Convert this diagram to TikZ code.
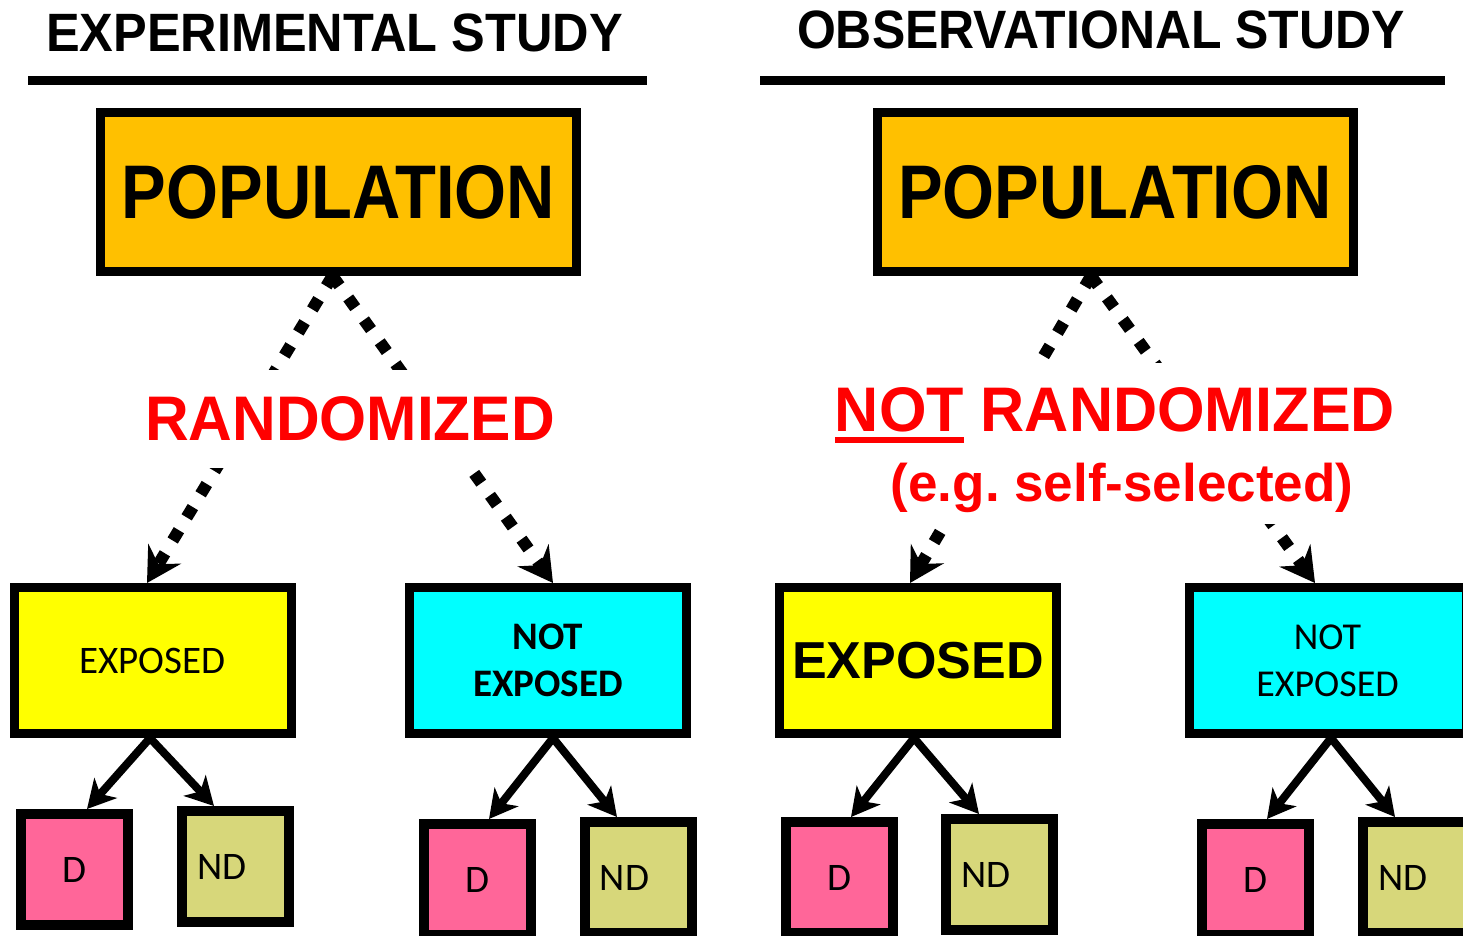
\documentclass[tikz,border=0pt]{standalone}
\usepackage{graphicx}
\usepackage{fontspec}
\setmainfont{Liberation Sans}
\newfontfamily\calib{Carlito}
\usetikzlibrary{arrows.meta}
\frenchspacing

\definecolor{popfill}{HTML}{FFC000}
\definecolor{expfill}{HTML}{FFFF00}
\definecolor{nexpfill}{HTML}{00FFFF}
\definecolor{dfill}{HTML}{FF6699}
\definecolor{ndfill}{HTML}{D7D77A}
\definecolor{labred}{HTML}{FF0000}

% thick underline for a word
\newcommand\thickul[1]{\setbox0\hbox{#1}\rlap{\rule[-11pt]{\wd0}{6pt}}\box0\relax}

\begin{document}
\begin{tikzpicture}[x=1pt, y=-1pt,
  heading/.style={anchor=base, inner sep=0, font=\bfseries\fontsize{54}{60}\selectfont},
  headrule/.style={line width=9pt},
  frame/.style={draw=black, line width=9pt, inner sep=0},
  popbox/.style={frame, fill=popfill, minimum width=476pt, minimum height=159pt,
                 font=\bfseries\fontsize{76}{80}\selectfont},
  grpbox/.style={frame, minimum width=277pt, minimum height=146pt, align=center},
  outbox/.style={draw=black, line width=10pt, inner sep=0, minimum width=107pt,
                 minimum height=111pt, font=\calib\fontsize{39}{40}\selectfont},
  randlabel/.style={fill=white, text=labred, font=\bfseries\fontsize{63}{70}\selectfont},
  assign/.style={line width=12pt, dash pattern=on 12pt off 15pt,
                 -{Stealth[length=34pt, width=38pt, inset=12pt]}},
  split/.style={line width=8pt, -{Stealth[length=28pt, width=30pt, inset=8pt]}}
]
\useasboundingbox (0,0) rectangle (1463,935);

% headings
\node[heading] (hexp) at (334.5,51) {\scalebox{0.935}[1]{EXPERIMENTAL STUDY}};
\node[heading] (hobs) at (1101,48) {\scalebox{0.925}[1]{OBSERVATIONAL STUDY}};
\coordinate (rl1) at (28,80);   \coordinate (rl2) at (647,80);
\coordinate (rr1) at (760,80);  \coordinate (rr2) at (1445,80);
\draw[headrule] (rl1) -- (rl2);
\draw[headrule] (rr1) -- (rr2);

% populations
\node[popbox] (popL) at (338.5,192) {\scalebox{0.88}[1]{POPULATION}};
\node[popbox] (popR) at (1115,192)  {\scalebox{0.88}[1]{POPULATION}};

% exposure groups
\node[grpbox, fill=expfill, font=\calib\fontsize{39}{47}\selectfont] (eL) at (152.5,660.5) {EXPOSED};
\node[grpbox, fill=nexpfill, font=\calib\bfseries\fontsize{39}{47}\selectfont] (nL) at (548,660.5) {NOT\\EXPOSED};
\node[grpbox, fill=expfill, font=\bfseries\fontsize{52}{56}\selectfont] (eR) at (918,660.5) {EXPOSED};
\node[grpbox, fill=nexpfill, font=\calib\fontsize{38}{47}\selectfont] (nR) at (1327.5,660.5) {NOT\\EXPOSED};

% outcomes
\node[outbox, fill=dfill]  (d1) at (74.5,869.5)  {D};
\node[outbox, fill=ndfill] (n1) at (235.5,866.5) {ND\kern27pt};
\node[outbox, fill=dfill]  (d2) at (477,879.5)   {D};
\node[outbox, fill=ndfill] (n2) at (638,877.5)   {ND\kern27pt};
\node[outbox, fill=dfill]  (d3) at (839,877.5)   {D};
\node[outbox, fill=ndfill] (n3) at (999.5,874.5) {ND\kern27pt};
\node[outbox, fill=dfill]  (d4) at (1255,879.5)  {D};
\node[outbox, fill=ndfill] (n4) at (1416.5,877.5){ND\kern27pt};

% allocation arrows
\draw[assign] ([xshift=-6pt]popL.south)  -- ([xshift=-5.5pt]eL.north);
\draw[assign] ([xshift=-6pt]popL.south)  -- ([xshift=5pt]nL.north);
\draw[assign] ([xshift=-24pt]popR.south) -- ([xshift=-8pt]eR.north);
\draw[assign] ([xshift=-24pt]popR.south) -- ([xshift=-12.5pt]nR.north);

% allocation labels
\node[randlabel, minimum height=98pt] (rand) at (350,419) {\scalebox{0.96}[1]{RANDOMIZED}};
\node[randlabel, minimum height=161pt, align=center] (nrand) at (1115,443)
  {\rule{0pt}{59pt}\scalebox{0.97}[1]{\thickul{NOT} RANDOMIZED}\\
   \hspace*{14pt}{\fontsize{53}{70}\selectfont (e.g. self-selected)}};

% outcome arrows
\draw[split] ([xshift=-2.5pt]eL.south) -- ([xshift=12.5pt]d1.north);
\draw[split] ([xshift=-2.5pt]eL.south) -- ([xshift=-21.5pt]n1.north);
\draw[split] ([xshift=5pt]nL.south)    -- ([xshift=12pt]d2.north);
\draw[split] ([xshift=5pt]nL.south)    -- ([xshift=-21pt]n2.north);
\draw[split] ([xshift=-4pt]eR.south)   -- ([xshift=12pt]d3.north);
\draw[split] ([xshift=-4pt]eR.south)   -- ([xshift=-20.5pt]n3.north);
\draw[split] ([xshift=3.5pt]nR.south)  -- ([xshift=12pt]d4.north);
\draw[split] ([xshift=3.5pt]nR.south)  -- ([xshift=-21.5pt]n4.north);
\end{tikzpicture}
\end{document}
